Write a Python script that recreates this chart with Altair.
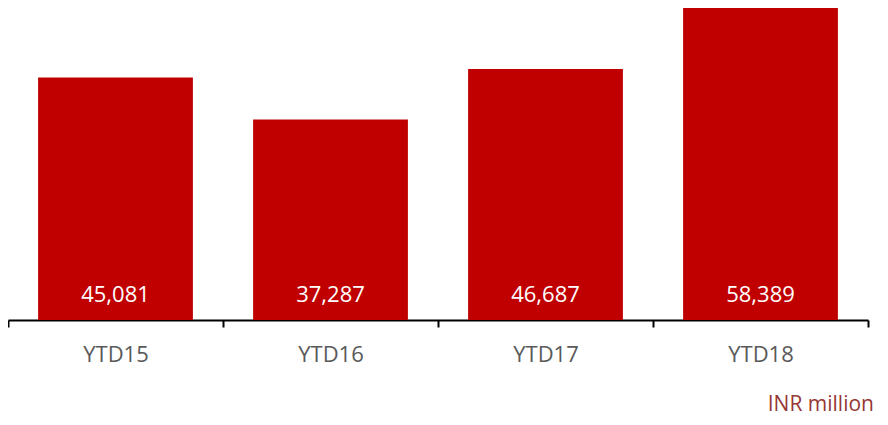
import altair as alt
import pandas as pd

categories = ["YTD15", "YTD16", "YTD17", "YTD18"]
values = [45081, 37287, 46687, 58389]
labels = ["45,081", "37,287", "46,687", "58,389"]

df = pd.DataFrame({"cat": categories, "val": values, "lbl": labels})

FONT = "Open Sans"

x = alt.X("cat:N", sort=categories, title=None,
          scale=alt.Scale(paddingInner=0, paddingOuter=0),
          axis=alt.Axis(labelAngle=0, labelFont=FONT, labelFontSize=22,
                        labelColor="#595959", labelPadding=17,
                        domainColor="#000000", domainWidth=2,
                        tickColor="#000000", tickWidth=2, tickSize=7,
                        tickBand="extent"))
y = alt.Y("val:Q", scale=alt.Scale(domain=[0, 58017], nice=False, zero=True),
          axis=None)

base = alt.Chart(df)
bars = base.mark_bar(color="#C00000", width=alt.RelativeBandSize(0.72)).encode(x=x, y=y)
text = base.mark_text(font=FONT, fontSize=22, color="#FFFFFF",
                      baseline="alphabetic", dy=-18).encode(
    x=alt.X("cat:N", sort=categories),
    y=alt.datum(0),
    text="lbl:N",
)

chart = alt.layer(bars, text).properties(
    width=860, height=312,
    autosize=alt.AutoSizeParams(type="none"),
    padding={"left": 0, "top": 0, "right": 12, "bottom": 97},
    title=alt.TitleParams("INR million", orient="bottom", anchor="end",
                          font=FONT, fontSize=21, fontWeight="normal",
                          color="#953735", dx=5, offset=29),
).configure_view(stroke=None)

chart.save("out.html", embed_options={"renderer": "svg", "actions": False})
